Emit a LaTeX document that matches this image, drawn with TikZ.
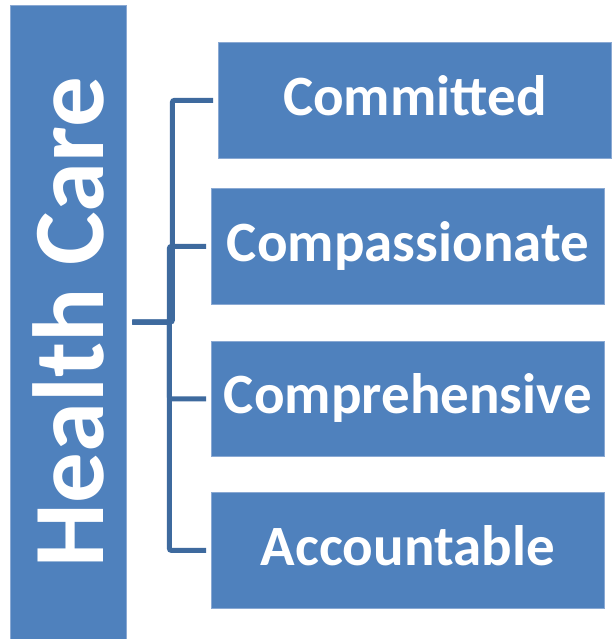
\documentclass[tikz,border=0pt]{standalone}
\usepackage{fontspec}
\setmainfont{Carlito}
\definecolor{boxblue}{HTML}{4F81BD}
\definecolor{boxedge}{HTML}{8AA9D3}
\definecolor{linkblue}{HTML}{3E6A9E}
\begin{document}
\begin{tikzpicture}[x=1pt,y=-1pt,
  bluebox/.style={fill=boxblue, draw=boxedge, line width=0.8pt, text=white, inner sep=0pt},
  quality/.style={bluebox, font=\bfseries\fontsize{57}{57}\selectfont,
    minimum width=393pt, minimum height=116pt, text height=40pt, text depth=10pt,
    anchor=north west},
  link/.style={draw=linkblue, line width=5pt, rounded corners=2pt,
    shorten <=6pt, shorten >=5pt}]
\useasboundingbox (0,0) rectangle (613,639);

% main category, set vertically
\node[bluebox, rotate=90, minimum width=634pt, minimum height=116pt,
      font=\bfseries\fontsize{101}{101}\selectfont] (hc) at (68,322) {Health Care};

% qualities
\node[quality] (c1) at (218,42)  {Committed};
\node[quality] (c2) at (211,188) {Compassionate};
\node[quality, minimum height=115pt] (c3) at (211,341) {Comprehensive};
\node[quality] (c4) at (211,492) {Accountable};

% elbow connectors
\draw[link] (hc.south) -- ++(46,0) |- (c1.west);
\draw[link] (hc.south) -- ++(43,0) |- (c2.west);
\draw[link] (hc.south) -- ++(43,0) |- (c3.west);
\draw[link] (hc.south) -- ++(43,0) |- (c4.west);
\end{tikzpicture}
\end{document}
